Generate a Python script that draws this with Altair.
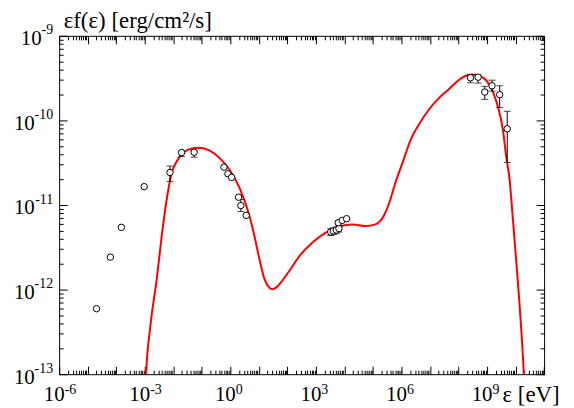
import altair as alt
import pandas as pd

# ---- data (log10 of energy in eV, log10 of flux) ----
model_log_e = [-2.98, -2.951, -2.812, -2.578, -2.404, -2.230, -2.056, -1.882, -1.652, -1.303,
               -1.070, -0.721, -0.373, -0.024, 0.324, 0.673, 0.847, 1.021, 1.195, 1.370,
               1.474, 1.613, 1.787, 2.066, 2.415, 2.878, 3.345, 3.808, 4.272, 4.739,
               5.087, 5.376, 5.610, 5.784, 6.073, 6.317, 6.596, 6.944, 7.293, 7.641,
               7.990, 8.279, 8.453, 8.686, 8.976, 9.209, 9.383, 9.557, 9.672, 9.791,
               9.906, 10.045, 10.185, 10.289, 10.324]
model_log_f = [-13.28, -13.0, -12.460, -11.874, -11.366, -10.935, -10.622, -10.486, -10.381, -10.329,
               -10.322, -10.357, -10.446, -10.584, -10.798, -11.131, -11.370, -11.639, -11.874, -11.979,
               -11.997, -11.974, -11.909, -11.780, -11.608, -11.443, -11.326, -11.256, -11.229, -11.249,
               -11.229, -11.131, -10.935, -10.740, -10.466, -10.232, -10.056, -9.880, -9.743, -9.637,
               -9.528, -9.469, -9.457, -9.469, -9.528, -9.665, -9.841, -10.114, -10.428, -10.701,
               -11.170, -11.757, -12.402, -13.0, -13.282]

pt_log_e = [-4.69, -4.205, -3.82, -3.02, -2.115, -1.707, -1.268, -0.223, -0.084, 0.045,
            0.289, 0.369, 0.557, 3.519, 3.61, 3.714, 3.808, 3.784, 3.923, 4.077,
            8.418, 8.686, 8.92, 9.174, 9.443, 9.707]
pt_log_f = [-12.226, -11.616, -11.264, -10.783, -10.615, -10.38, -10.376, -10.552, -10.631, -10.674,
            -10.908, -11.006, -11.123, -11.319, -11.307, -11.296, -11.279, -11.209, -11.182, -11.162,
            -9.496, -9.489, -9.665, -9.59, -9.696, -10.099]
pt_log_lo = [None, None, None, None, -10.72, -10.428, -10.435, None, None, None,
             None, -11.076, None, -11.36, -11.35, -11.34, -11.32, None, None, None,
             -9.555, -9.559, -9.751, -9.653, -9.848, -10.498]
pt_log_hi = [None, None, None, None, -10.54, -10.364, -10.357, None, None, None,
             None, -10.935, None, -11.28, -11.27, -11.26, -11.24, None, None, None,
             -9.457, -9.461, -9.598, -9.524, -9.59, -9.892]

x_label_exps = [-6, -3, 0, 3, 6, 9]
y_label_exps = [-13, -12, -11, -10, -9]

# ---- tables ----
model = pd.DataFrame({"e": [10 ** v for v in model_log_e], "f": [10 ** v for v in model_log_f]})
pts = pd.DataFrame({"e": [10 ** v for v in pt_log_e], "f": [10 ** v for v in pt_log_f]})
err_rows = [(10 ** e, 10 ** lo, 10 ** hi) for e, lo, hi in zip(pt_log_e, pt_log_lo, pt_log_hi) if lo is not None]
errs = pd.DataFrame(err_rows, columns=["e", "lo", "hi"])
caps = pd.DataFrame([(e, lo) for e, lo, hi in err_rows] + [(e, hi) for e, lo, hi in err_rows], columns=["e", "v"])

W, H = 487.3, 340
FONT = "'Liberation Serif', 'Times New Roman', Times, 'DejaVu Serif', serif"
FS = 21
FS_EXP = 14

xscale = alt.Scale(type="log", domain=[1e-6, 1e11], nice=False)
yscale = alt.Scale(type="log", domain=[1e-13, 1e-9], nice=False)

x_major = [10.0 ** k for k in range(-6, 12)]
x_minor = [m * 10.0 ** k for k in range(-6, 11) for m in range(2, 10)]
y_major = [10.0 ** k for k in range(-13, -8)]
y_minor = [m * 10.0 ** k for k in range(-13, -9) for m in range(2, 10)]


def expr_map(exps, texts):
    expr = "''"
    for k, t in reversed(list(zip(exps, texts))):
        expr = f"round(log(datum.value)/LN10) == {k} ? '{t}' : " + expr
    return expr


def tick_axis(orient, offset, values, size):
    return alt.Axis(orient=orient, offset=offset, values=values, labels=False, domain=False,
                    grid=False, title=None, tickSize=size, tickColor="black", tickWidth=1)


common = dict(ticks=False, domain=False, grid=False, labelFont=FONT, labelColor="black",
              labelFlush=False, labelOverlap=False)

x_vals = [10.0 ** k for k in x_label_exps]
y_short = [k for k in y_label_exps if len(str(k)) == 2]   # "-9"
y_long = [k for k in y_label_exps if len(str(k)) == 3]    # "-10" ... "-13"

# base "10" labels and exponent labels, drawn as separate axes
x_base_axis = alt.Axis(orient="bottom", values=x_vals,
                       labelExpr=expr_map(x_label_exps, ["10"] * len(x_label_exps)),
                       labelFontSize=FS, labelPadding=9, labelAlign="right", labelOffset=5,
                       title="ε [eV]", titleFont=FONT, titleFontSize=23, titleFontWeight="normal",
                       titleColor="black", titleX=445, titleY=27, titleAlign="left",
                       titleBaseline="alphabetic", titleAnchor="start", **common)
x_exp_axis = alt.Axis(orient="bottom", values=x_vals,
                      labelExpr=expr_map(x_label_exps, [str(k) for k in x_label_exps]),
                      labelFontSize=FS_EXP, labelPadding=8.5, labelAlign="left", labelOffset=5,
                      title=None, **common)
y_base_long_axis = alt.Axis(orient="left", values=[10.0 ** k for k in y_long],
                            labelExpr=expr_map(y_long, ["10"] * len(y_long)),
                            labelFontSize=FS, labelPadding=25, labelBaseline="middle", labelOffset=3,
                            title="εf(ε) [erg/cm²/s]", titleFont=FONT, titleFontSize=23,
                            titleFontWeight="normal", titleColor="black", titleAngle=0,
                            titleX=4, titleY=-8, titleAlign="left", titleBaseline="alphabetic",
                            titleAnchor="start", **common)
y_base_short_axis = alt.Axis(orient="left", values=[10.0 ** k for k in y_short],
                             labelExpr=expr_map(y_short, ["10"] * len(y_short)),
                             labelFontSize=FS, labelPadding=18, labelBaseline="middle", labelOffset=3,
                             title=None, **common)
y_exp_axis = alt.Axis(orient="left", values=[10.0 ** k for k in y_label_exps],
                      labelExpr=expr_map(y_label_exps, [str(k) for k in y_label_exps]),
                      labelFontSize=FS_EXP, labelPadding=6.5, labelBaseline="middle", labelOffset=-6,
                      title=None, **common)

line = alt.Chart(model).mark_line(color="#ff0000", strokeWidth=2, clip=True,
                                  interpolate="monotone").encode(
    x=alt.X("e:Q", scale=xscale, axis=x_base_axis),
    y=alt.Y("f:Q", scale=yscale, axis=y_base_long_axis),
)

bars = alt.Chart(errs).mark_rule(color="black", strokeWidth=1).encode(
    x=alt.X("e:Q", scale=xscale, axis=x_exp_axis),
    y=alt.Y("lo:Q", scale=yscale, axis=y_exp_axis),
    y2="hi:Q",
)

cap_marks = alt.Chart(caps).mark_tick(color="black", orient="horizontal", size=7, thickness=1).encode(
    x=alt.X("e:Q", scale=xscale, axis=tick_axis("top", -H, x_major, 8)),
    y=alt.Y("v:Q", scale=yscale, axis=tick_axis("right", -W, y_major, 8)),
)

points = alt.Chart(pts).mark_point(shape="circle", size=42, filled=False, fill="white",
                                   fillOpacity=1, stroke="black", strokeWidth=1, opacity=1).encode(
    x=alt.X("e:Q", scale=xscale, axis=tick_axis("top", -H, x_minor, 4)),
    y=alt.Y("f:Q", scale=yscale, axis=tick_axis("right", -W, y_minor, 4)),
)

guide_a = alt.Chart(pts).mark_point(opacity=0).encode(
    x=alt.X("e:Q", scale=xscale, axis=tick_axis("bottom", -H, x_major, 8)),
    y=alt.Y("f:Q", scale=yscale, axis=tick_axis("left", -W, y_major, 8)),
)
guide_b = alt.Chart(pts).mark_point(opacity=0).encode(
    x=alt.X("e:Q", scale=xscale, axis=tick_axis("bottom", -H, x_minor, 4)),
    y=alt.Y("f:Q", scale=yscale, axis=tick_axis("left", -W, y_minor, 4)),
)
guide_c = alt.Chart(pts).mark_point(opacity=0).encode(
    x=alt.X("e:Q", scale=xscale, axis=None),
    y=alt.Y("f:Q", scale=yscale, axis=y_base_short_axis),
)

chart = alt.layer(line, bars, cap_marks, points, guide_a, guide_b, guide_c).resolve_axis(
    x="independent", y="independent"
).properties(
    width=W, height=H,
    autosize=alt.AutoSizeParams(type="none"),
    padding={"left": 51.4, "top": 27, "right": 22, "bottom": 31},
    background="white",
).configure_view(stroke="black", strokeWidth=1)

chart.save("out.html", embed_options={"renderer": "svg", "actions": False})
